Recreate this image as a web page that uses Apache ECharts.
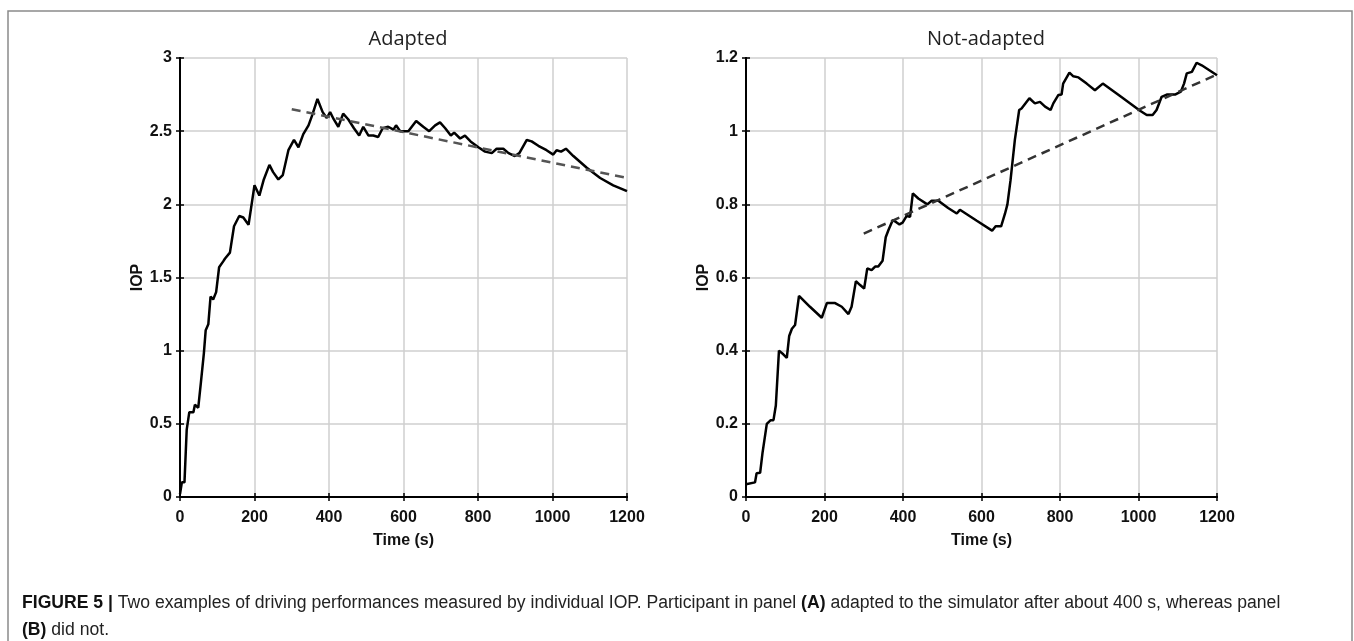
<!DOCTYPE html>
<html lang="en">
<head>
<meta charset="UTF-8">
<title>Figure 5</title>
<script src="https://cdn.jsdelivr.net/npm/echarts@6/dist/echarts.min.js"></script>
<style>
  html, body { margin: 0; padding: 0; background: #fff; }
  #chart { width: 1354px; height: 641px; }
</style>
</head>
<body>
<div id="chart"></div>
<script>
// panel A - adapted participant
var adaptedTime = [0, 2, 5, 12, 18, 25, 36, 40, 49, 56, 64, 69, 76, 82, 89, 97, 105, 116, 121, 134,
  145, 159, 170, 184, 200, 213, 225, 240, 250, 264, 276, 291, 306, 318, 331, 345, 355, 369, 383, 394,
  403, 413, 425, 438, 452, 467, 481, 492, 506, 519, 532, 544, 559, 573, 580, 591, 613, 634, 653, 669,
  685, 698, 712, 727, 736, 752, 765, 780, 801, 819, 837, 850, 868, 882, 899, 911, 931, 944, 962, 984,
  1002, 1011, 1023, 1036, 1056, 1092, 1128, 1163, 1200];
var adaptedIOP = [0.02, 0.03, 0.1, 0.1, 0.46, 0.58, 0.58, 0.63, 0.61, 0.78, 0.98, 1.14, 1.18, 1.37, 1.35, 1.40, 1.57, 1.61, 1.63, 1.67,
  1.85, 1.92, 1.91, 1.86, 2.13, 2.06, 2.17, 2.27, 2.22, 2.17, 2.20, 2.37, 2.44, 2.39, 2.48, 2.54, 2.61, 2.72, 2.63, 2.59,
  2.63, 2.58, 2.53, 2.62, 2.58, 2.52, 2.47, 2.53, 2.47, 2.47, 2.46, 2.52, 2.53, 2.51, 2.54, 2.50, 2.50, 2.57, 2.53, 2.50,
  2.54, 2.56, 2.52, 2.47, 2.49, 2.45, 2.47, 2.43, 2.39, 2.36, 2.35, 2.38, 2.38, 2.35, 2.33, 2.35, 2.44, 2.43, 2.40, 2.37,
  2.34, 2.37, 2.36, 2.38, 2.33, 2.25, 2.18, 2.13, 2.09];
var adaptedTrendTime = [300, 1200];
var adaptedTrendIOP = [2.65, 2.18];

// panel B - not adapted participant
var notAdaptedTime = [0, 23, 27, 36, 42, 53, 63, 70, 76, 84, 95, 104, 110, 117, 125, 135, 163, 193, 206, 218,
  227, 244, 261, 269, 280, 290, 301, 309, 320, 329, 337, 348, 356, 363, 374, 382, 391, 399, 409, 418,
  425, 439, 462, 473, 490, 515, 537, 545, 588, 627, 636, 650, 660, 666, 674, 685, 696, 702, 722, 736,
  749, 762, 776, 783, 796, 804, 808, 824, 834, 847, 868, 889, 909, 953, 1004, 1021, 1036, 1046, 1059, 1072,
  1093, 1108, 1116, 1123, 1136, 1148, 1161, 1200];
var notAdaptedIOP = [0.035, 0.04, 0.065, 0.066, 0.12, 0.20, 0.21, 0.21, 0.25, 0.40, 0.39, 0.38, 0.44, 0.46, 0.47, 0.55, 0.52, 0.49, 0.53, 0.53,
  0.53, 0.52, 0.50, 0.52, 0.59, 0.58, 0.57, 0.625, 0.62, 0.63, 0.63, 0.646, 0.71, 0.73, 0.757, 0.752, 0.745, 0.75, 0.768, 0.766,
  0.83, 0.816, 0.80, 0.81, 0.81, 0.79, 0.775, 0.785, 0.755, 0.728, 0.74, 0.74, 0.775, 0.80, 0.866, 0.976, 1.058, 1.062, 1.09, 1.076,
  1.08, 1.067, 1.058, 1.076, 1.099, 1.10, 1.13, 1.16, 1.15, 1.147, 1.13, 1.112, 1.13, 1.096, 1.056, 1.044, 1.044, 1.058, 1.094, 1.10,
  1.10, 1.108, 1.13, 1.158, 1.162, 1.187, 1.18, 1.153];
var notAdaptedTrendTime = [300, 1200];
var notAdaptedTrendIOP = [0.72, 1.155];

var panelTitles = ['Adapted', 'Not-adapted'];

function pairs(xs, ys) {
  return xs.map(function (x, i) { return [x, ys[i]]; });
}

var tickFont = { color: '#111', fontFamily: 'Liberation Sans', fontWeight: 'bold', fontSize: 16 };
var nameFont = { color: '#111', fontFamily: 'Liberation Sans', fontWeight: 'bold', fontSize: 16 };

function plain(v) { return String(v); }

function bottomAxis(gi) {
  return {
    type: 'value', gridIndex: gi, position: 'bottom', min: 0, max: 1200, interval: 200,
    name: 'Time (s)', nameLocation: 'middle', nameGap: 36, nameTextStyle: nameFont,
    axisLine: { lineStyle: { color: '#000', width: 2 } },
    axisTick: { inside: true, length: 4, lineStyle: { color: '#000', width: 1.5 } },
    axisLabel: Object.assign({ margin: 13, formatter: plain }, tickFont),
    splitLine: { show: true, lineStyle: { color: '#cfcfcf', width: 1.5 } }
  };
}
function topAxis(gi) {
  return {
    type: 'value', gridIndex: gi, position: 'top', min: 0, max: 1200, interval: 200,
    axisLine: { lineStyle: { color: '#000', width: 2 } },
    axisTick: { inside: true, length: 4, lineStyle: { color: '#000', width: 1.5 } },
    axisLabel: { show: false }, splitLine: { show: false }
  };
}
function leftAxis(gi, max, step) {
  return {
    type: 'value', gridIndex: gi, position: 'left', min: 0, max: max, interval: step,
    name: 'IOP', nameLocation: 'middle', nameGap: 28, nameTextStyle: nameFont,
    axisLine: { show: true, lineStyle: { color: '#000', width: 2 } },
    axisTick: { show: true, inside: true, length: 4, lineStyle: { color: '#000', width: 1.5 } },
    axisLabel: Object.assign({ margin: 8, formatter: plain }, tickFont),
    splitLine: { show: true, lineStyle: { color: '#cfcfcf', width: 1.5 } }
  };
}
function rightAxis(gi, max, step) {
  return {
    type: 'value', gridIndex: gi, position: 'right', min: 0, max: max, interval: step,
    axisLine: { show: true, lineStyle: { color: '#000', width: 2 } },
    axisTick: { show: true, inside: true, length: 4, lineStyle: { color: '#000', width: 1.5 } },
    axisLabel: { show: false }, splitLine: { show: false }
  };
}

var option = {
  backgroundColor: '#fff',
  animation: false,
  title: [
    { text: panelTitles[0], left: 403, top: 24, textAlign: 'center',
      textStyle: { fontFamily: 'Open Sans', fontWeight: 'normal', fontSize: 20, color: '#222' } },
    { text: panelTitles[1], left: 981, top: 24, textAlign: 'center',
      textStyle: { fontFamily: 'Open Sans', fontWeight: 'normal', fontSize: 20, color: '#222' } }
  ],
  grid: [
    { left: 180, top: 58, width: 447, height: 439 },
    { left: 746, top: 58, width: 471, height: 439 }
  ],
  xAxis: [bottomAxis(0), topAxis(0), bottomAxis(1), topAxis(1)],
  yAxis: [leftAxis(0, 3, 0.5), rightAxis(0, 3, 0.5), leftAxis(1, 1.2, 0.2), rightAxis(1, 1.2, 0.2)],
  series: [
    { type: 'line', xAxisIndex: 0, yAxisIndex: 0, data: pairs(adaptedTime, adaptedIOP),
      symbol: 'none', lineStyle: { color: '#000', width: 2.5 } },
    { type: 'line', xAxisIndex: 0, yAxisIndex: 0, data: pairs(adaptedTrendTime, adaptedTrendIOP),
      symbol: 'none', lineStyle: { color: '#555', width: 2.5, type: [9, 6] } },
    { type: 'line', xAxisIndex: 2, yAxisIndex: 2, data: pairs(notAdaptedTime, notAdaptedIOP),
      symbol: 'none', lineStyle: { color: '#000', width: 2.5 } },
    { type: 'line', xAxisIndex: 2, yAxisIndex: 2, data: pairs(notAdaptedTrendTime, notAdaptedTrendIOP),
      symbol: 'none', lineStyle: { color: '#333', width: 2.5, type: [9, 6] } }
  ],
  graphic: [
    { type: 'rect', shape: { x: 8, y: 11, width: 1344, height: 700 }, silent: true,
      style: { fill: 'none', stroke: '#8a8a8a', lineWidth: 1.5 } },
    { type: 'text', left: 22, top: 590, silent: true,
      style: {
        text: '{b|FIGURE 5 |} Two examples of driving performances measured by individual IOP. Participant in panel {b|(A)} adapted to the simulator after about 400 s, whereas panel\n{b|(B)} did not.',
        fontFamily: 'Liberation Sans', fontSize: 17.6, lineHeight: 27, fill: '#222',
        rich: { b: { fontFamily: 'Liberation Sans', fontSize: 17.6, fontWeight: 'bold', fill: '#111' } }
      } }
  ]
};

var myChart = echarts.init(document.getElementById('chart'));
myChart.setOption(option);
</script>
</body>
</html>
